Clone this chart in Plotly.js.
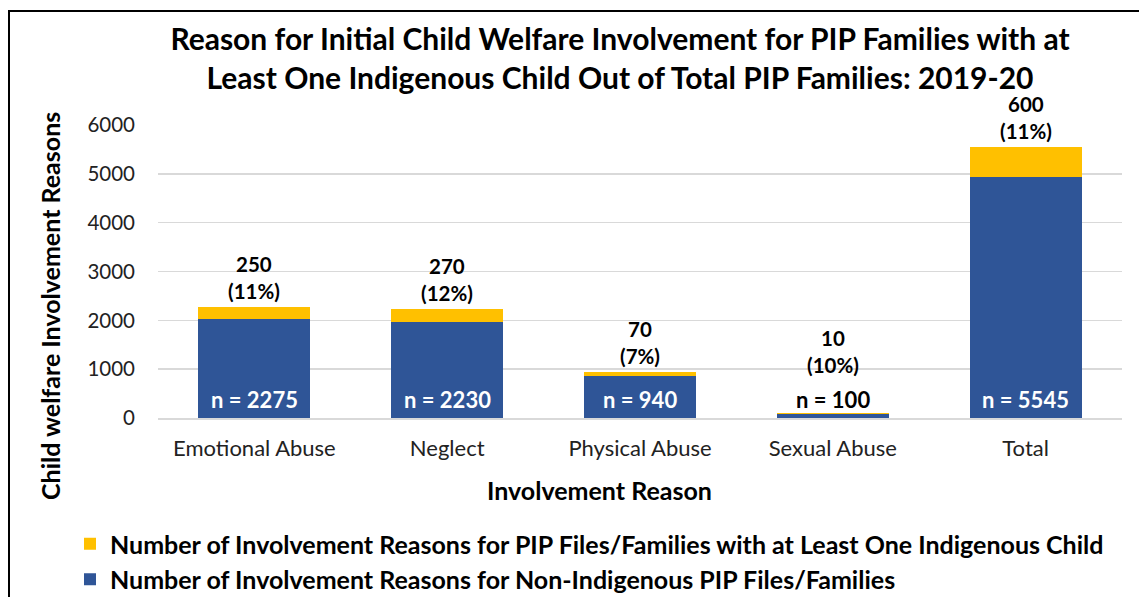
<!DOCTYPE html>
<html>
<head>
<meta charset="utf-8">
<script src="https://cdn.plot.ly/plotly-3.0.1.min.js"></script>
<style>
  html, body { margin: 0; padding: 0; background: #fff; overflow: hidden; }
  #chart { width: 1139px; height: 597px; position: absolute; left: 0; top: 0; }
  #frame { position: absolute; left: 8px; top: 10px; width: 1160px; height: 620px;
           border: 2.5px solid #000; pointer-events: none; box-sizing: border-box; }
</style>
</head>
<body>
<div id="chart"></div>
<div id="frame"></div>
<script>
const categories = ["Emotional Abuse", "Neglect", "Physical Abuse", "Sexual Abuse", "Total"];
const nonIndigenous = [2025, 1960, 870, 90, 4945];
const indigenous = [250, 270, 70, 10, 600];
const indigenousPct = [11, 12, 7, 10, 11];
const totals = [2275, 2230, 940, 100, 5545];
const yTicks = [0, 1000, 2000, 3000, 4000, 5000, 6000];

const FONT = "Lato, 'Open Sans', sans-serif";
const BLUE = "#2F5597";
const GOLD = "#FFC000";

const traces = [
  {
    type: "bar", x: categories, y: nonIndigenous, name: "Number of Involvement Reasons for Non-Indigenous PIP Files/Families",
    marker: { color: BLUE }, hoverinfo: "x+y"
  },
  {
    type: "bar", x: categories, y: indigenous, name: "Number of Involvement Reasons for PIP Files/Families with at Least One Indigenous Child",
    marker: { color: GOLD }, hoverinfo: "x+y"
  }
];

const L = 158, R = 1122, T = 125, B = 418;
const px = v => (v - L) / (R - L);
const py = v => (B - v) / (B - T);

const annotations = [];
categories.forEach((c, i) => {
  const shortBar = totals[i] < 500;
  annotations.push({
    x: c, y: Math.max(totals[i], 760), xref: "x", yref: "y",
    text: "<b>" + indigenous[i] + "<br>(" + indigenousPct[i] + "%)</b>",
    showarrow: false, yanchor: "bottom", yshift: 2,
    font: { family: FONT, size: 20.5, color: "#000" }
  });
  annotations.push({
    x: c, y: 0, xref: "x", yref: "y",
    text: "<b>n = " + totals[i] + "</b>",
    showarrow: false, yanchor: "bottom", yshift: 3,
    font: { family: FONT, size: 22, color: shortBar ? "#000" : "#fff" }
  });
});
annotations.push({
  x: px(50), y: py(306), xref: "paper", yref: "paper", xanchor: "center", yanchor: "middle",
  text: "<b>Child welfare Involvement Reasons</b>",
  showarrow: false, textangle: -90, font: { family: FONT, size: 25, color: "#000" }
});
annotations.push({
  x: px(599), y: py(490), xref: "paper", yref: "paper", xanchor: "center", yanchor: "middle",
  text: "<b>Involvement Reason</b>", showarrow: false,
  font: { family: FONT, size: 25, color: "#000" }
});

const layout = {
  width: 1139, height: 597,
  margin: { l: L, r: 1139 - R, t: T, b: 597 - B, autoexpand: false },
  paper_bgcolor: "#fff", plot_bgcolor: "#fff",
  barmode: "stack", bargap: 0.42,
  font: { family: FONT, color: "#000" },
  title: {
    text: "<b>Reason for Initial Child Welfare Involvement for PIP Families with at<br>Least One Indigenous Child Out of Total PIP Families: 2019-20</b>",
    x: 620 / 1139, xanchor: "center", y: 1 - 50 / 597, yanchor: "middle",
    font: { family: FONT, size: 30, color: "#000" }
  },
  xaxis: {
    type: "category", tickfont: { family: FONT, size: 22, color: "#222" },
    showline: true, linecolor: "#d9d9d9", linewidth: 1.5, ticks: "", ticklabelstandoff: 10
  },
  yaxis: {
    range: [0, 6000], tickvals: yTicks, ticktext: yTicks.map(String),
    tickfont: { family: FONT, size: 20.5, color: "#222" },
    showgrid: true, gridcolor: "#d9d9d9", gridwidth: 1.5, zeroline: false,
    ticks: "", ticklabelstandoff: 22
  },
  legend: {
    orientation: "v", traceorder: "reversed", x: px(70), y: py(521), xanchor: "left", yanchor: "top",
    font: { family: FONT, size: 25, color: "#000", weight: "bold" }, itemwidth: 30, tracegroupgap: 0
  },
  annotations: annotations,
  showlegend: true
};

Plotly.newPlot("chart", traces, layout, { displayModeBar: false, staticPlot: true });
</script>
</body>
</html>
